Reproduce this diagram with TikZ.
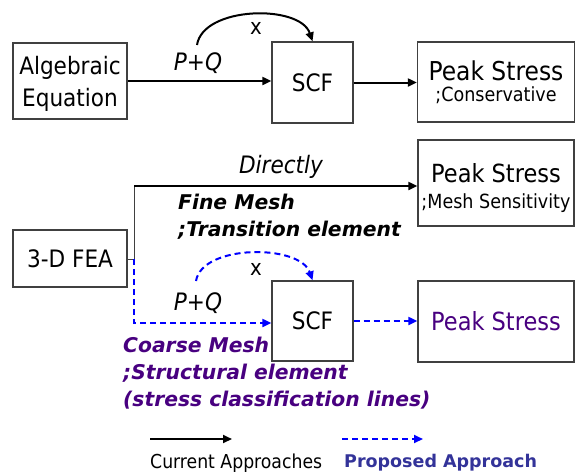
\documentclass[tikz,border=0pt]{standalone}
\usepackage{fontspec}
\setmainfont{DejaVu Sans Condensed}
\newfontfamily\widefont{DejaVu Sans}
\usetikzlibrary{arrows.meta}
\definecolor{purp}{RGB}{72,0,128}
\definecolor{propblue}{RGB}{51,51,153}
\definecolor{dblue}{RGB}{0,0,255}
\begin{document}
\begin{tikzpicture}[x=1pt,y=-1pt,
 box/.style={draw=black!75,line width=1.3pt,inner sep=0pt,align=center,font=\fontsize{24}{29}\selectfont},
 arr/.style={line width=2pt,-{Triangle[length=9pt,width=8pt]}},
 darr/.style={arr,dblue,dash pattern=on 6pt off 4pt},
 lab/.style={inner sep=0pt,font=\fontsize{24}{29}\selectfont\itshape},
 xlab/.style={inner sep=0pt,font=\fontsize{22}{26}\selectfont},
 bi/.style={inner sep=0pt,anchor=west,font=\widefont\bfseries\itshape\fontsize{20.3}{24}\selectfont}
]
\useasboundingbox (0,0) rectangle (576,472);
% boxes
\node[box,minimum width=114pt,minimum height=76pt] (alg) at (70,81) {\rule{0pt}{24pt}Algebraic\\[3pt]Equation};
\node[box,minimum width=81pt,minimum height=81pt] (scf1) at (312.5,82.5) {SCF};
\node[box,minimum width=157pt,minimum height=80pt] (peak1) at (496,82) {{\fontsize{26}{29}\selectfont Peak Stress}\\[-8pt]{\fontsize{19.5}{22}\selectfont ;Conservative}};
\node[box,minimum width=114pt,minimum height=57pt] (fea) at (70,258.5) {3-D FEA};
\node[box,minimum width=156pt,minimum height=86pt] (peak2) at (496,183) {\rule{0pt}{30pt}{\fontsize{25}{29}\selectfont Peak Stress}\\[-3pt]{\fontsize{19.5}{22}\selectfont ;Mesh Sensitivity}};
\node[box,minimum width=81pt,minimum height=80pt] (scf2) at (312.5,321) {SCF};
\node[box,minimum width=156pt,minimum height=81pt,text=purp,font=\fontsize{25}{29}\selectfont] (peak3) at (496,321.5) {Peak Stress};
% top row
\draw[arr] (alg.east) -- (alg.east -| scf1.west);
\draw[arr] (scf1.east) -- (scf1.east -| peak1.west);
\coordinate (c1) at (197,45);
\draw[arr] (c1) .. controls (203,6) and (300,4) .. (scf1.north);
\node[xlab] (x1) at (256,28) {x};
\node[lab] (pq1) at (198,63) {P+Q};
% FEA connectors
\coordinate (j) at (134,259);
\coordinate (t) at (134,186);
\coordinate (b) at (134,323);
\draw[line width=1pt,black!75] (fea.east |- j) -- (j) -- (t);
\draw[arr] (t) -- (t -| peak2.west);
\draw[darr] (j) -- (b) -- (b -| scf2.west);
\draw[darr] (scf2.east) -- (scf2.east -| peak3.west);
\coordinate (c2) at (196,281);
\draw[darr] (c2) .. controls (202,244) and (300,244) .. (scf2.north);
\node[xlab] (x2) at (256,269) {x};
\node[lab] (pq2) at (198,303) {P+Q};
\node[lab] (dir) at (281,167) {Directly};
\node[bi] (fm) at (178,202) {Fine Mesh};
\node[bi] (te) at (178,230) {;Transition element};
\node[bi,text=purp] (cm) at (123,345) {Coarse Mesh};
\node[bi,text=purp] (se) at (123,373) {;Structural element};
\node[bi,text=purp] (sc) at (123,400) {(stress classification lines)};
% legend
\coordinate (l1) at (150,439); \coordinate (l2) at (232,439);
\coordinate (l3) at (342,439); \coordinate (l4) at (423,439);
\draw[arr] (l1) -- (l2);
\draw[darr] (l3) -- (l4);
\node[inner sep=0pt,anchor=west,font=\fontsize{19.2}{22}\selectfont] (ca) at (150,463) {Current Approaches};
\node[inner sep=0pt,anchor=west,text=propblue,font=\widefont\bfseries\fontsize{17.5}{22}\selectfont] (pa) at (344,463) {Proposed Approach};
\end{tikzpicture}
\end{document}
